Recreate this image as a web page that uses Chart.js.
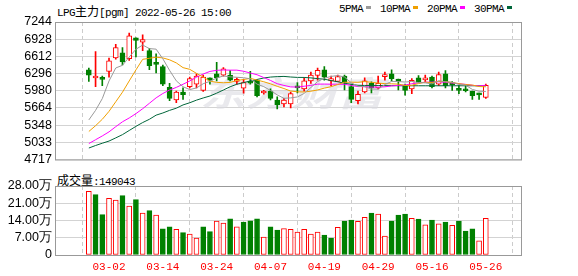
<!DOCTYPE html>
<html>
<head>
<meta charset="utf-8">
<script src="https://cdn.jsdelivr.net/npm/chart.js@4.4.1/dist/chart.umd.min.js"></script>
<style>
  body { margin: 0; background: #fff; }
  #wrap { position: relative; width: 578px; height: 276px; overflow: hidden; }
  canvas { position: absolute; left: 0; }
  .t { position: absolute; font: 11px "Liberation Mono", monospace; letter-spacing: -0.6px; color: #000; white-space: nowrap; line-height: 14px; }
  .t .cj { font: 12px "Noto Sans CJK SC"; letter-spacing: 0; }
  #legend { left: 339px; top: 2px; }
  #legend span.it { display: inline-block; margin-right: 9px; }
  #legend i { display: inline-block; width: 5px; height: 3px; margin-left: 3px; vertical-align: 3px; }
</style>
</head>
<body>
<div id="wrap">
  <div class="t" style="left:57px;top:2px">LPG<span class="cj">主力</span>[pgm] 2022-05-26 15:00</div>
  <div class="t" id="legend"></div>
  <div class="t" style="left:57px;top:171px"><span class="cj">成交量</span>:149043</div>
  <canvas id="kline" width="578" height="170" style="top:0"></canvas>
  <canvas id="vol" width="578" height="106" style="top:170px"></canvas>
</div>
<script>
// datos
const dates = ['02-25','02-28','03-01','03-02','03-03','03-04','03-07','03-08','03-09','03-10',
  '03-11','03-14','03-15','03-16','03-17','03-18','03-21','03-22','03-23','03-24',
  '03-25','03-28','03-29','03-30','03-31','04-01','04-06','04-07','04-08','04-11',
  '04-12','04-13','04-14','04-15','04-18','04-19','04-20','04-21','04-22','04-25',
  '04-26','04-27','04-28','04-29','05-05','05-06','05-09','05-10','05-11','05-12',
  '05-13','05-16','05-17','05-18','05-19','05-20','05-23','05-24','05-25','05-26'];
const opens = [6366,6215,6200,6337,6583,6676,6571,6951,6875,6717,
  6495,6425,6044,5811,5957,6056,6103,5986,6220,6290,
  6267,6267,6150,6027,6150,6173,5939,5974,5810,5740,
  5740,6056,6015,6162,6261,6366,6162,6150,6249,6056,
  5799,5957,6115,6033,6240,6290,6196,6074,6015,6220,
  6179,6232,6103,6290,6115,6009,6000,5974,5939,5857];
const highs = [6395,6700,6249,6583,6834,6776,7039,6951,7010,6758,
  6659,6454,6115,5974,6033,6232,6290,6267,6220,6501,
  6407,6349,6220,6191,6337,6191,5986,6015,5869,5840,
  5957,6132,6220,6325,6396,6425,6249,6267,6267,6103,
  5974,6220,6144,6249,6325,6366,6196,6103,6202,6261,
  6267,6249,6325,6349,6150,6074,6074,5974,5939,6103];
const lows = [6150,6056,6074,6232,6559,6454,6536,6600,6717,6366,
  6308,6074,5799,5763,5822,6033,6033,5968,6103,6162,
  6249,6162,6103,5934,6103,5869,5916,5811,5646,5682,
  5664,5939,5974,6115,6173,6173,6074,6150,5998,5763,
  5740,5939,5939,6015,6173,6162,5998,5899,5927,6132,
  6144,6033,6074,6033,5986,5927,5957,5822,5822,5840];
const closes = [6267,6230,6190,6530,6776,6512,6992,6905,6922,6442,
  6466,6103,5840,5957,5910,6202,6249,6232,6173,6220,
  6384,6173,6191,6132,6120,5892,5945,5840,5723,5810,
  5927,6033,6162,6267,6355,6232,6202,6243,6132,5822,
  5916,6162,6033,6115,6249,6202,6150,5986,6173,6132,
  6185,6056,6279,6074,6091,5986,5980,5892,5904,6080];
const volumes = [258000,245000,164000,230000,223000,241000,199000,225000,170000,180000,
  162000,106000,114000,104000,91000,85000,69000,114000,95000,138000,
  130000,147000,114000,134000,139000,147000,73000,114000,101000,107000,
  104000,93000,104000,85000,93000,81000,69000,112000,138000,142000,
  137000,153000,170000,166000,77000,138000,162000,166000,149000,146000,
  122000,142000,126000,134000,120000,138000,97000,106000,57000,149043];
const ma5 = [5444,5620,5836,6160,6399,6448,6600,6743,6821,6755,
  6745,6568,6355,6162,6055,6002,6032,6110,6153,6215,
  6252,6236,6228,6220,6200,6102,6056,5986,5904,5842,
  5849,5867,5931,6040,6149,6210,6244,6260,6233,6126,
  6063,6055,6013,6010,6095,6152,6150,6140,6152,6129,
  6125,6106,6165,6145,6137,6097,6082,6005,5971,5968];
const ma10 = [5232,5338,5456,5602,5778,5954,6160,6364,6558,6577,
  6597,6584,6549,6492,6405,6374,6300,6232,6157,6135,
  6127,6134,6169,6187,6208,6177,6146,6107,6062,6021,
  5975,5961,5958,5972,5995,6029,6055,6095,6136,6138,
  6136,6149,6136,6121,6111,6108,6102,6077,6081,6112,
  6139,6128,6153,6149,6133,6111,6094,6085,6058,6053];
const ma20 = [5010,5080,5150,5225,5320,5410,5480,5560,5650,5750,
  5850,5930,5994,6042,6100,6160,6230,6288,6336,6356,
  6362,6359,6359,6339,6306,6275,6223,6170,6110,6078,
  6051,6048,6064,6079,6102,6103,6101,6101,6099,6079,
  6056,6055,6047,6047,6053,6069,6079,6086,6109,6125,
  6138,6139,6145,6135,6122,6109,6098,6081,6069,6082];
const ma30 = [4928,4974,5016,5056,5114,5174,5250,5326,5396,5456,
  5532,5572,5620,5660,5720,5760,5808,5848,5884,5936,
  5994,6054,6100,6130,6160,6188,6215,6232,6240,6244,
  6233,6226,6225,6217,6203,6193,6167,6145,6119,6098,
  6080,6078,6076,6076,6075,6074,6073,6072,6072,6072,
  6072,6072,6072,6072,6072,6072,6072,6072,6072,6072];
const maNames = ['5PMA','10PMA','20PMA','30PMA'];
const priceTicks = [4717,5033,5348,5664,5980,6296,6612,6928,7244];
const volTicks = [0,70000,140000,210000,280000];
const dateTicks = ['03-02','03-14','03-24','04-07','04-19','04-29','05-16','05-26'];

const rojo = '#ff0000', verde = '#008000';
const maColors = ['#9a9a9a','#f0a000','#ff00ff','#00663a'];

// leyenda
document.getElementById('legend').innerHTML = maNames.map((n, k) =>
  '<span class="it">' + n + '<i style="background:' + maColors[k] + '"></i></span>').join('');

const sube = closes.map((c, i) => c >= opens[i]);
const subeVol = closes.map((c, i) => i === 0 || c >= closes[i - 1]);
const tickIdx = dateTicks.map(d => dates.indexOf(d));

const marco = {
  id: 'marco',
  afterDraw(chart) {
    const { ctx, chartArea: a } = chart;
    ctx.save();
    ctx.strokeStyle = '#999';
    ctx.lineWidth = 1;
    ctx.strokeRect(a.left + 0.5, a.top + 0.5, a.right - a.left - 1, a.bottom - a.top);
    ctx.restore();
  }
};

const marcaAgua = {
  id: 'marcaAgua',
  beforeDatasetsDraw(chart) {
    const ctx = chart.ctx;
    ctx.save();
    ctx.translate(200, 106);
    ctx.scale(1.35, 1);
    ctx.font = 'italic bold 34px "Noto Sans CJK SC"';
    ctx.fillStyle = 'rgba(218,218,225,0.6)';
    ctx.fillText('东方财富', 0, 0);
    ctx.restore();
  }
};

function ejeX(labels) {
  return {
    type: 'linear', min: -0.69, max: 60.04,
    afterBuildTicks: s => { s.ticks = tickIdx.map(v => ({ value: v })); },
    afterFit: s => { s.height = labels ? 21 : 0; },
    grid: { color: '#cccccc', drawTicks: false },
    border: { display: false, dash: [4, 3] },
    ticks: {
      display: labels, autoSkip: false, maxRotation: 0, padding: 5,
      color: rojo, font: { family: 'Liberation Mono', size: 11 },
      callback: v => dates[v]
    }
  };
}

function ejeY(min, max, valores, fmt) {
  return {
    min: min, max: max,
    afterBuildTicks: s => { s.ticks = valores.map(v => ({ value: v })); },
    afterFit: s => { s.width = 55; },
    grid: { color: '#d3d3d3', drawTicks: false },
    border: { display: false },
    ticks: {
      autoSkip: false, padding: 3, color: '#000',
      font: { family: 'Liberation Sans', size: 12.5 },
      callback: fmt
    }
  };
}

const lineas = [ma5, ma10, ma20, ma30].map((serie, k) => ({
  type: 'line', label: maNames[k],
  data: serie.map((v, i) => ({ x: i, y: v })),
  borderColor: maColors[k], borderWidth: 1, pointRadius: 0, tension: 0, order: 0
}));

new Chart(document.getElementById('kline'), {
  type: 'bar',
  data: {
    datasets: [
      ...lineas,
      {
        label: 'cuerpo',
        data: opens.map((o, i) => ({ x: i, y: [o, closes[i]] })),
        backgroundColor: sube.map(u => u ? '#ffffff' : verde),
        borderColor: sube.map(u => u ? rojo : verde),
        borderWidth: 1, borderSkipped: false, barThickness: 5, minBarLength: 2,
        grouped: false, order: 1
      },
      {
        label: 'mecha',
        data: lows.map((l, i) => ({ x: i, y: [l, highs[i]] })),
        backgroundColor: sube.map(u => u ? rojo : verde),
        barThickness: 1, grouped: false, order: 2
      }
    ]
  },
  options: {
    responsive: false, animation: false,
    layout: { padding: { top: 22, right: 56, bottom: 5, left: 0 } },
    plugins: { legend: { display: false }, tooltip: { enabled: false } },
    scales: {
      x: ejeX(false),
      y: ejeY(4717, 7244, priceTicks, v => String(v))
    }
  },
  plugins: [marcaAgua, marco]
});

new Chart(document.getElementById('vol'), {
  type: 'bar',
  data: {
    datasets: [{
      label: 'volumen',
      data: volumes.map((v, i) => ({ x: i, y: v })),
      backgroundColor: subeVol.map(u => u ? '#ffffff' : verde),
      borderColor: subeVol.map(u => u ? rojo : verde),
      borderWidth: 1, borderSkipped: false, barThickness: 5
    }]
  },
  options: {
    responsive: false, animation: false,
    layout: { padding: { top: 16, right: 56, bottom: 0, left: 0 } },
    plugins: { legend: { display: false }, tooltip: { enabled: false } },
    scales: {
      x: ejeX(true),
      y: ejeY(0, 280000, volTicks, v => v === 0 ? '0' : (v / 10000).toFixed(2) + '万')
    }
  },
  plugins: [marco]
});
</script>
</body>
</html>
